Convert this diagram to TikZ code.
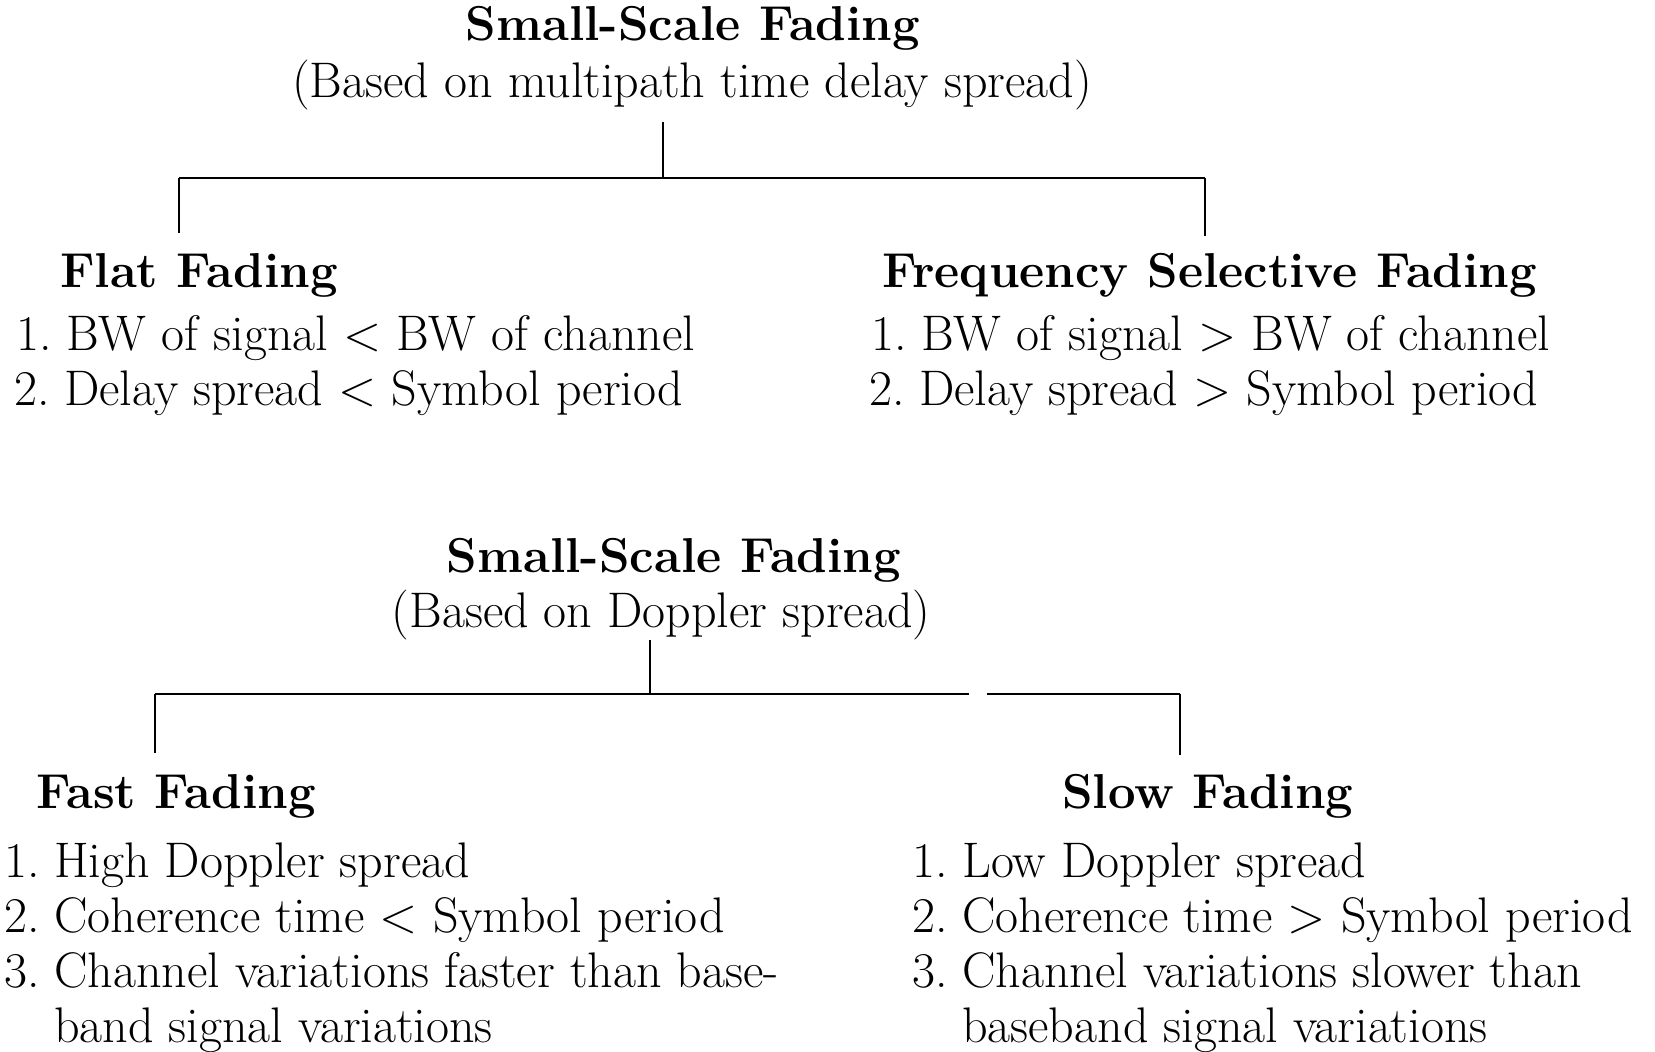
\documentclass[tikz,border=0pt]{standalone}
\newcommand{\itemno}[1]{\makebox[50pt][l]{#1}}
\tikzset{
  body/.style={inner sep=0pt, font=\fontsize{50}{56}\selectfont},
  head/.style={inner sep=0pt, font=\fontsize{49}{56}\selectfont\bfseries},
  branch/.style={line width=1.5pt},
  bar/.style={line width=2.4pt},
}
\begin{document}
\begin{tikzpicture}[x=1pt,y=-1pt]
\useasboundingbox[fill=white] (0,0) rectangle (1655,1052);
% ---- tree 1
\node[head,anchor=base] (t1) at (693,40) {Small-Scale Fading};
\node[body,anchor=base] (s1) at (692,97) {(Based on multipath time delay spread)};
\node[head,anchor=base west] (flat) at (60,287) {Flat Fading};
\node[body,anchor=base west] (fl1) at (16,350) {\itemno{1.}BW of signal < BW of channel};
\node[body,anchor=base west] (fl2) at (14,405) {\itemno{2.}Delay spread < Symbol period};
\node[head,anchor=base west] (fsel) at (882,287) {Frequency Selective Fading};
\node[body,anchor=base west] (fs1) at (871,350) {\itemno{1.}BW of signal > BW of channel};
\node[body,anchor=base west] (fs2) at (869,405) {\itemno{2.}Delay spread > Symbol period};
\coordinate (a1) at (663,122);
\coordinate (j1) at (663,178);
\coordinate (al) at (179,233);
\coordinate (ar) at (1205,236);
\draw[branch] (a1) -- (j1);
\draw[bar] (al |- j1) -- (ar |- j1);
\draw[branch] (al |- j1) -- (al);
\draw[branch] (ar |- j1) -- (ar);
% ---- tree 2
\node[head,anchor=base] (t2) at (674,572) {Small-Scale Fading};
\node[body,anchor=base] (s2) at (661,627) {(Based on Doppler spread)};
\node[head,anchor=base west] (fast) at (36,808) {Fast Fading};
\node[body,anchor=base west] (fa1) at (4,877) {\itemno{1.}High Doppler spread};
\node[body,anchor=base west] (fa2) at (4,932) {\itemno{2.}Coherence time < Symbol period};
\node[body,anchor=base west] (fa3) at (4,987) {\itemno{3.}Channel variations faster than base-};
\node[body,anchor=base west] (fa4) at (54,1042) {band signal variations};
\node[head,anchor=base west] (slow) at (1062,808) {Slow Fading};
\node[body,anchor=base west] (sl1) at (912,877) {\itemno{1.}Low Doppler spread};
\node[body,anchor=base west] (sl2) at (912,932) {\itemno{2.}Coherence time > Symbol period};
\node[body,anchor=base west] (sl3) at (912,987) {\itemno{3.}Channel variations slower than};
\node[body,anchor=base west] (sl4) at (962,1042) {baseband signal variations};
\coordinate (b1) at (650,640);
\coordinate (j2) at (650,694);
\coordinate (bl) at (155,753);
\coordinate (br) at (1180,755);
\coordinate (gapa) at (969,694);
\coordinate (gapb) at (987,694);
\draw[branch] (b1) -- (j2);
\draw[bar] (bl |- j2) -- (gapa);
\draw[bar] (gapb) -- (br |- j2);
\draw[branch] (bl |- j2) -- (bl);
\draw[branch] (br |- j2) -- (br);
\end{tikzpicture}
\end{document}
